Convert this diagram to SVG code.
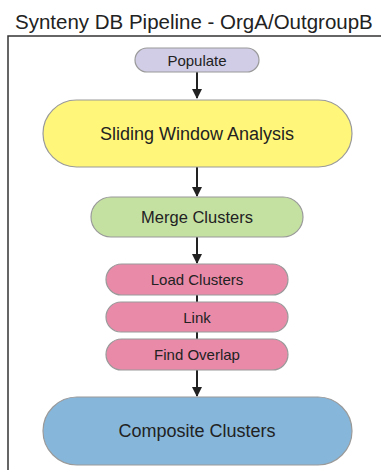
<svg xmlns="http://www.w3.org/2000/svg" width="381" height="470" viewBox="0 0 381 470">
  <defs>
    <style>
      .node rect { stroke: #9a9a9a; stroke-width: 1.2; }
      .node text { font-family: "Liberation Sans", Arial, sans-serif; fill: #222; text-anchor: middle; dominant-baseline: central; }
      .edge { stroke: #222; stroke-width: 2; fill: none; }
      .title { font-family: "Liberation Sans", Arial, sans-serif; font-size: 20.5px; fill: #222; }
    </style>
    <marker id="arrow" viewBox="0 0 10 10" refX="9" refY="5" markerWidth="5" markerHeight="5" orient="auto" markerUnits="strokeWidth">
      <path d="M0,0 L10,5 L0,10 z" fill="#222"/>
    </marker>
  </defs>

  <rect width="381" height="470" fill="#ffffff"/>

  <!-- Title and cluster frame -->
  <text class="title" x="15" y="29">Synteny DB Pipeline - OrgA/OutgroupB</text>
  <path d="M8,470 L8,36 L381,36" fill="none" stroke="#333" stroke-width="1.5"/>

  <!-- Connectors -->
  <g id="edges">
    <line class="edge" x1="197" y1="72" x2="197" y2="98" marker-end="url(#arrow)"/>
    <line class="edge" x1="197" y1="167" x2="197" y2="196" marker-end="url(#arrow)"/>
    <line class="edge" x1="197" y1="237" x2="197" y2="263" marker-end="url(#arrow)"/>
    <line class="edge" x1="197" y1="295" x2="197" y2="302"/>
    <line class="edge" x1="197" y1="332" x2="197" y2="339"/>
    <line class="edge" x1="197" y1="370" x2="197" y2="396" marker-end="url(#arrow)"/>
  </g>

  <!-- Nodes -->
  <g id="populate" class="node">
    <rect x="135" y="48" width="124" height="24" rx="12" fill="#d1cde6"/>
    <text x="197" y="60.5" font-size="15">Populate</text>
  </g>
  <g id="sliding_window" class="node">
    <rect x="43" y="100" width="309" height="67" rx="33.5" fill="#fff67a"/>
    <text x="197" y="133.5" font-size="18">Sliding Window Analysis</text>
  </g>
  <g id="merge_clusters" class="node">
    <rect x="91" y="197" width="212" height="40" rx="20" fill="#c5e1a2"/>
    <text x="197" y="217" font-size="16.5">Merge Clusters</text>
  </g>
  <g id="load_clusters" class="node">
    <rect x="106" y="264" width="182" height="31" rx="15.5" fill="#e98aa9"/>
    <text x="197" y="279.5" font-size="15">Load Clusters</text>
  </g>
  <g id="link" class="node">
    <rect x="106" y="302" width="182" height="30" rx="15" fill="#e98aa9"/>
    <text x="197" y="317" font-size="15">Link</text>
  </g>
  <g id="find_overlap" class="node">
    <rect x="106" y="339" width="182" height="31" rx="15.5" fill="#e98aa9"/>
    <text x="197" y="354.5" font-size="15">Find Overlap</text>
  </g>
  <g id="composite_clusters" class="node">
    <rect x="43" y="397" width="309" height="68" rx="34" fill="#86b7db"/>
    <text x="197" y="431" font-size="18">Composite Clusters</text>
  </g>
</svg>
